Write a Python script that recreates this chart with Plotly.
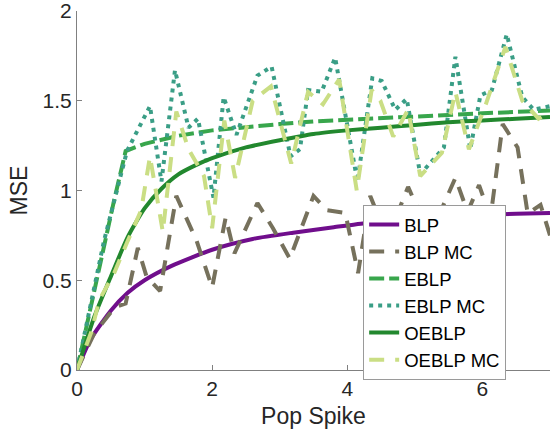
import re
import plotly.graph_objects as go

# ---- data ----
blp_x = [0, 0.2, 0.5, 0.75, 1.0, 1.4, 2.0, 2.6, 3.2, 3.8, 4.2, 5.0, 5.5, 6.0, 6.5, 7.0]
blp_y = [0, 0.17, 0.33, 0.43, 0.5, 0.58, 0.67, 0.73, 0.765, 0.795, 0.815, 0.84, 0.855, 0.865, 0.87, 0.875]

blpmc_x = [0, 0.25, 0.56, 0.72, 0.9, 1.03, 1.23, 1.47, 1.77, 2.0, 2.2, 2.33, 2.67, 2.9, 3.15,
           3.5, 3.7, 3.97, 4.16, 4.34, 4.52, 4.72, 4.9, 5.1, 5.4, 5.6, 5.78, 5.95, 6.12, 6.3,
           6.52, 6.67, 6.86, 7.0]
blpmc_y = [0, 0.2, 0.35, 0.37, 0.68, 0.52, 0.44, 0.97, 0.72, 0.46, 0.85, 0.65, 0.93, 0.79, 0.62,
           0.97, 0.89, 0.875, 0.54, 0.97, 0.8, 0.85, 1.02, 0.85, 0.9, 1.07, 0.88, 1.03, 0.85, 1.37,
           1.24, 0.87, 0.92, 0.75]

eblp_x = [0, 0.18, 0.36, 0.54, 0.72, 1.0, 1.5, 2.0, 2.5, 3.0, 3.5, 4.0, 4.5, 5.0, 5.5, 6.0, 6.5, 7.0]
eblp_y = [0, 0.3, 0.62, 0.93, 1.22, 1.26, 1.305, 1.335, 1.355, 1.37, 1.385, 1.395, 1.405, 1.415,
          1.425, 1.43, 1.438, 1.445]

eblpmc_x = [0, 0.4, 0.74, 1.08, 1.25, 1.45, 1.65, 1.79, 2.02, 2.17, 2.36, 2.52, 2.67, 2.88, 3.16,
            3.3, 3.42, 3.62, 3.82, 4.15, 4.37, 4.51, 4.71, 4.88, 5.08, 5.43, 5.6, 5.82, 5.97,
            6.14, 6.36, 6.59, 6.76, 7.0]
eblpmc_y = [0, 0.72, 1.22, 1.47, 1.05, 1.67, 1.35, 1.40, 0.96, 1.52, 1.31, 1.48, 1.64, 1.69, 1.19,
            1.23, 1.56, 1.55, 1.74, 1.05, 1.625, 1.61, 1.45, 1.51, 1.09, 1.24, 1.745, 1.23, 1.53,
            1.56, 1.87, 1.52, 1.45, 1.47]

oeblp_x = [0, 0.25, 0.5, 0.75, 1.0, 1.25, 1.5, 1.75, 2.0, 2.5, 3.0, 3.5, 4.0, 4.5, 5.0, 5.5, 6.0, 6.5, 7.0]
oeblp_y = [0, 0.29, 0.52, 0.74, 0.9, 1.01, 1.09, 1.14, 1.18, 1.24, 1.28, 1.315, 1.335, 1.35, 1.365,
           1.38, 1.39, 1.40, 1.41]

oeblpmc_x = [0, 0.21, 0.33, 0.55, 0.74, 0.95, 1.08, 1.27, 1.47, 1.65, 1.88, 2.0, 2.18, 2.34, 2.6,
             2.87, 3.17, 3.42, 3.64, 3.88, 4.14, 4.36, 4.49, 4.68, 4.9, 5.08, 5.4, 5.6, 5.8, 6.05,
             6.34, 6.59, 6.83, 7.0]
oeblpmc_y = [0, 0.21, 0.39, 0.54, 0.71, 0.89, 1.19, 0.77, 1.44, 1.23, 1.08, 0.79, 1.39, 1.07, 1.5,
             1.58, 1.15, 1.55, 1.48, 1.62, 1.0, 1.56, 1.5, 1.3, 1.45, 1.08, 1.21, 1.55, 1.23, 1.48,
             1.8, 1.5, 1.4, 1.44]

x_ticks = [0, 2, 4, 6]
y_ticks = [0, 0.5, 1, 1.5, 2]
y_ticklabels = ["0", "0.5", "1", "1.5", "2"]

FONT = "Liberation Sans"

fig = go.Figure()
fig.add_trace(go.Scatter(x=blp_x, y=blp_y, mode="lines", name="BLP",
                         line=dict(color="rgb(112,14,140)", width=4, shape="spline", smoothing=0.6)))
fig.add_trace(go.Scatter(x=blpmc_x, y=blpmc_y, mode="lines", name="BLP MC",
                         line=dict(color="rgb(118,113,92)", width=4, dash="15px,11px")))
fig.add_trace(go.Scatter(x=eblp_x, y=eblp_y, mode="lines", name="EBLP",
                         line=dict(color="rgb(56,166,76)", width=4, dash="15px,5px")))
fig.add_trace(go.Scatter(x=eblpmc_x, y=eblpmc_y, mode="lines", name="EBLP MC",
                         line=dict(color="rgb(58,158,134)", width=4, dash="4px,5px")))
fig.add_trace(go.Scatter(x=oeblp_x, y=oeblp_y, mode="lines", name="OEBLP",
                         line=dict(color="rgb(34,136,46)", width=4, shape="spline", smoothing=0.6)))
fig.add_trace(go.Scatter(x=oeblpmc_x, y=oeblpmc_y, mode="lines", name="OEBLP MC",
                         line=dict(color="rgb(202,222,132)", width=4, dash="15px,11px")))

fig.update_layout(
    width=550, height=439,
    margin=dict(l=77, r=0, t=11, b=69),
    plot_bgcolor="white", paper_bgcolor="white",
    font=dict(family=FONT, size=21, color="#262626"),
    showlegend=True,
    legend=dict(x=0.605, y=0.46, xanchor="left", yanchor="top",
                bordercolor="#9a9a9a", borderwidth=1, bgcolor="white",
                font=dict(family=FONT, size=18.5, color="black"),
                itemwidth=30, tracegroupgap=0),
    xaxis=dict(range=[0, 7], tickvals=x_ticks, ticks="inside", ticklen=5,
               tickcolor="#808080", showline=True, linecolor="#808080", linewidth=1,
               showgrid=False, zeroline=False, automargin=False, ticklabeloverflow="allow",
               title=dict(text="Pop Spike", font=dict(size=23), standoff=8)),
    yaxis=dict(range=[0, 2], tickvals=y_ticks, ticktext=y_ticklabels, ticks="inside", ticklen=5,
               tickcolor="#808080", showline=True, linecolor="#808080", linewidth=1,
               showgrid=False, zeroline=False, automargin=False, ticklabeloverflow="allow",
               title=dict(text="MSE", font=dict(size=23), standoff=8)),
)

fig.write_html("out.html", config={"displayModeBar": False})

# remove the browser's default page margin so the figure sits at (0, 0)
with open("out.html", "r", encoding="utf-8") as f:
    html = f.read()
html = re.sub(r"<body>", '<body style="margin:0;padding:0;overflow:hidden">', html, count=1)
with open("out.html", "w", encoding="utf-8") as f:
    f.write(html)
